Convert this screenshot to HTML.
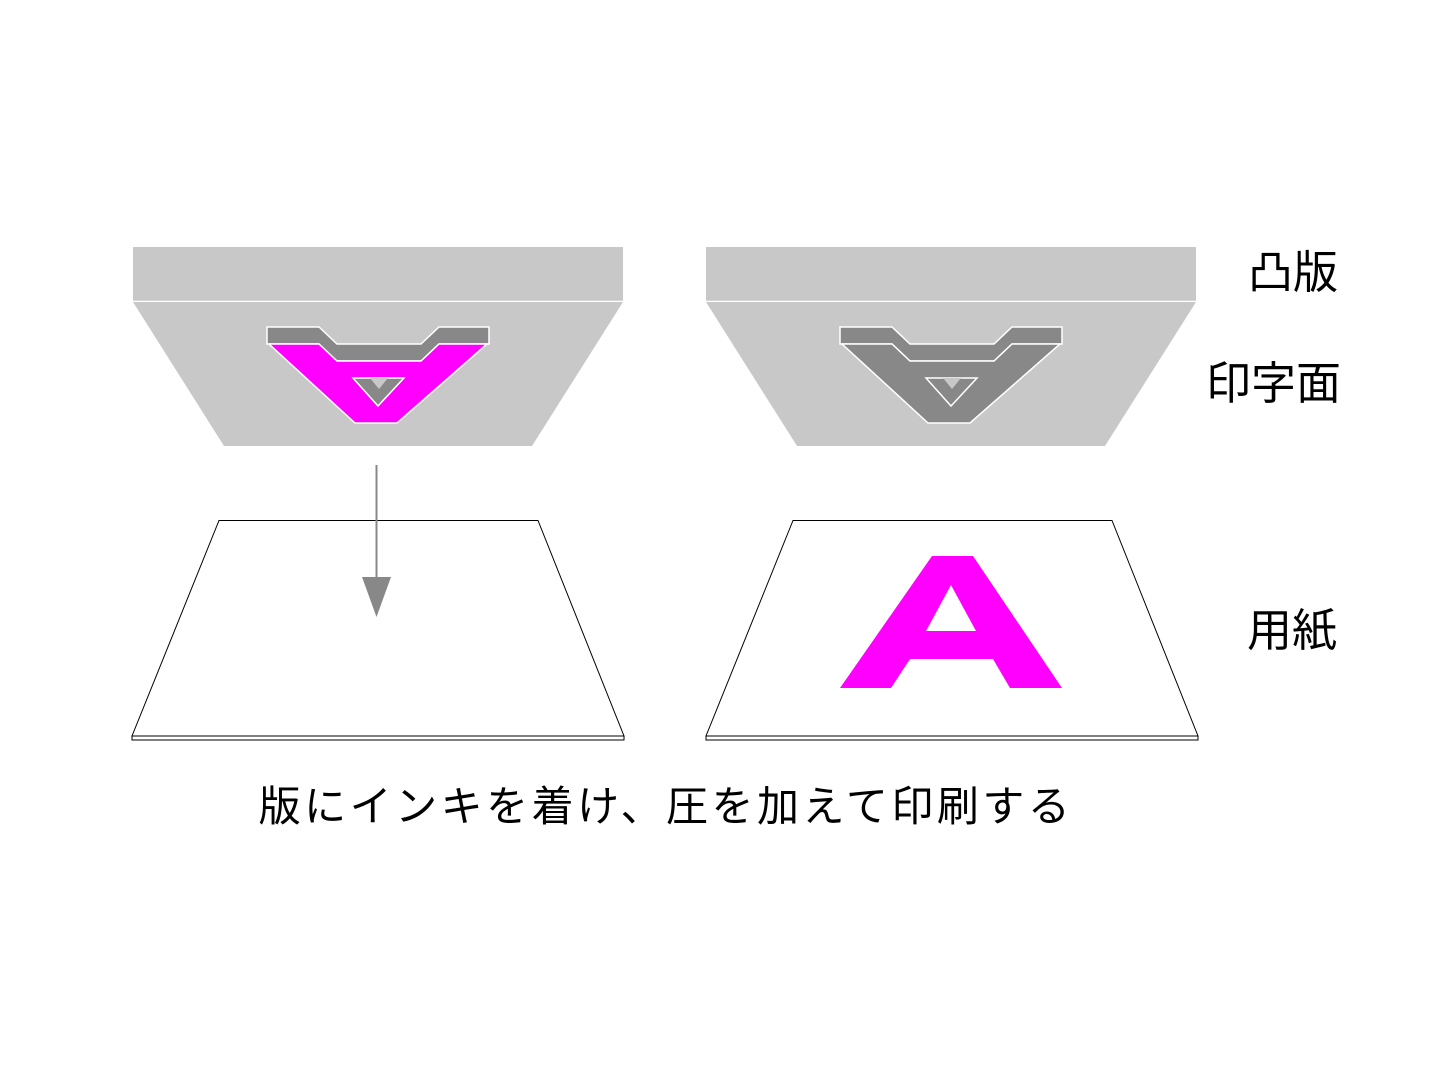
<!DOCTYPE html>
<html><head><meta charset="utf-8"><style>
html,body{margin:0;padding:0;background:#fff;width:1440px;height:1080px;overflow:hidden}
text{font-family:"Liberation Sans","Noto Sans CJK JP",sans-serif;fill:#000}
</style></head><body>
<svg width="1440" height="1080" viewBox="0 0 1440 1080" xmlns="http://www.w3.org/2000/svg">
<defs>
<g id="plate">
  <rect x="133" y="247" width="490" height="54" fill="#c8c8c8"/>
  <line x1="133" y1="301.5" x2="623" y2="301.5" stroke="#fff" stroke-width="1.5"/>
  <polygon points="133,302 623,302 532,446 224,446" fill="#c8c8c8"/>
  <polygon points="267,327 319,327 337,344 421,344 439,327 489,327 489,344 439,344 421,361 337,361 319,344 267,344" fill="#888" stroke="#fff" stroke-width="1.5"/>
</g>
<g id="paper">
  <polygon points="219,520.5 538,520.5 624,736 132,736" fill="#fff" stroke="#000" stroke-width="1"/>
  <rect x="132" y="736" width="492" height="4" fill="#fff" stroke="#000" stroke-width="1"/>
</g>
</defs>
<use href="#plate"/>
<polygon points="269,344 319,344 337,361 421,361 439,344 487,344 397,423 355,423" fill="#f0f" stroke="#fff" stroke-width="1.5"/>
<polygon points="353,378 404,378 378,406" fill="#888" stroke="#fff" stroke-width="1.5"/>
<polygon points="370,378 388,378 379,389" fill="#c8c8c8"/>
<g transform="translate(573,0)">
<use href="#plate"/>
<polygon points="269,344 319,344 337,361 421,361 439,344 487,344 397,423 355,423" fill="#888" stroke="#fff" stroke-width="1.5"/>
<polygon points="353,378 404,378 378,406" fill="#888" stroke="#fff" stroke-width="1.5"/>
<polygon points="370,378 388,378 379,389" fill="#c8c8c8"/>
</g>
<use href="#paper"/>
<g transform="translate(574,0)"><use href="#paper"/></g>
<line x1="376.5" y1="465" x2="376.5" y2="585" stroke="#888" stroke-width="2"/>
<polygon points="362,577 391,577 376.5,617" fill="#888"/>
<path d="M932,556 L973,556 L1062,688 L1010,688 L993,659 L910,659 L891,688 L840,688 Z M951,585 L926,631 L976,631 Z" fill="#f0f" fill-rule="evenodd"/>
<text x="1248" y="288" font-size="45">凸版</text>
<text x="1206" y="399" font-size="45">印字面</text>
<text x="1247" y="646" font-size="45">用紙</text>
<text x="666" y="821" font-size="42" text-anchor="middle" letter-spacing="3.5">版にインキを着け、圧を加えて印刷する</text>
</svg>
</body></html>
